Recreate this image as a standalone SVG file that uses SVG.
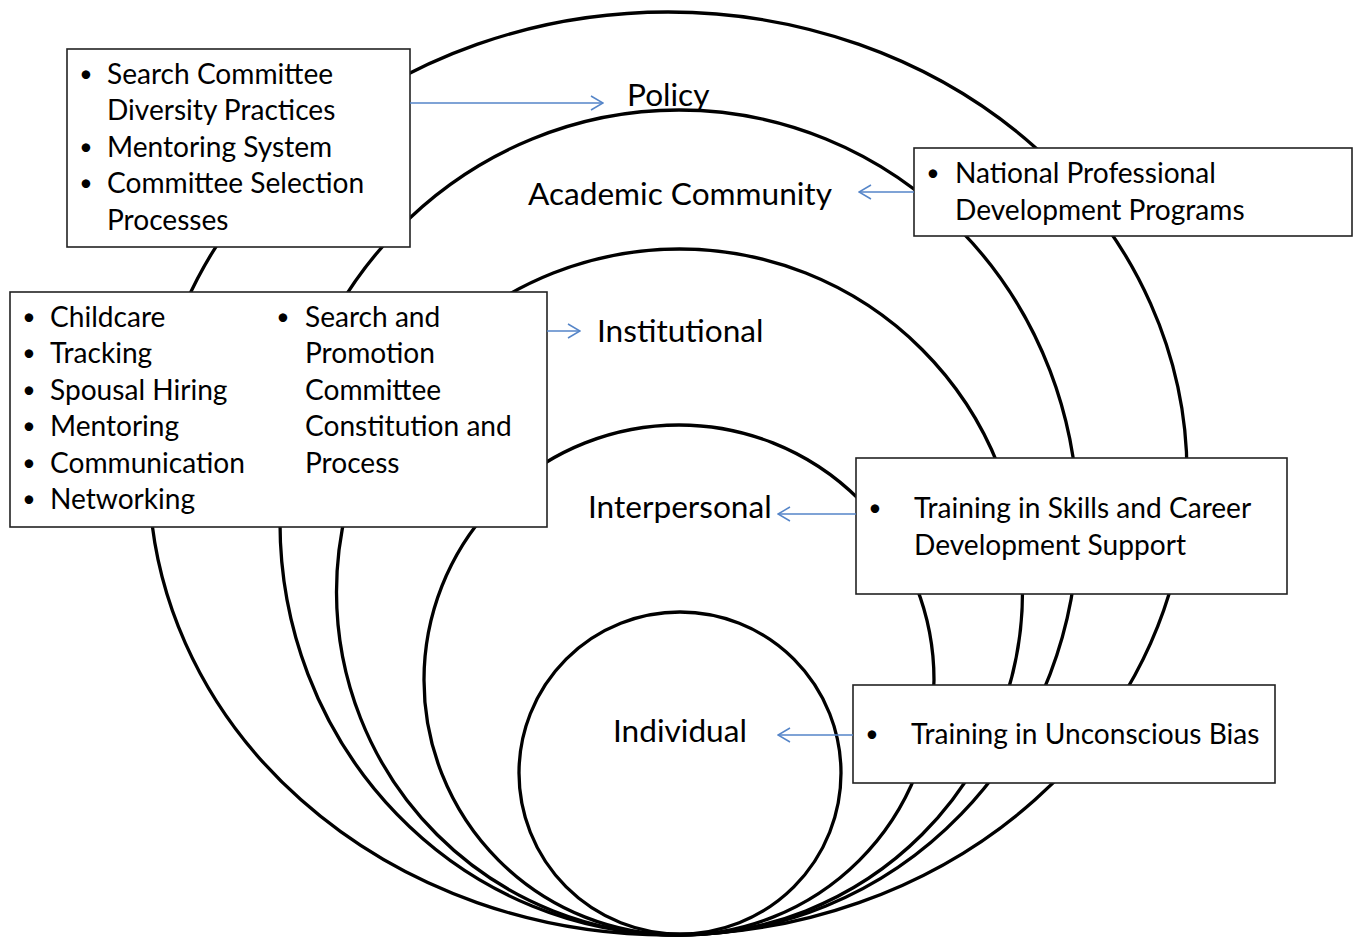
<svg xmlns="http://www.w3.org/2000/svg" width="1360" height="937" viewBox="0 0 1360 937">
<defs>
<style>
.ring{fill:none;stroke:#000;stroke-width:3.3}
.box{fill:#fff;stroke:#222;stroke-width:1.6}
.bt{font-family:Lato,"Open Sans",sans-serif;font-size:28.1px;fill:#000}
.bu{font-family:Lato,"Open Sans",sans-serif;font-size:23px;fill:#000;text-anchor:middle}
.lbl{font-family:Lato,"Open Sans",sans-serif;font-size:31.6px;fill:#000}
.arr{fill:none;stroke:#5585C8;stroke-width:1.5}
</style>
<marker id="ah" viewBox="0 0 14 16" refX="13" refY="8" markerWidth="14" markerHeight="16" orient="auto" markerUnits="userSpaceOnUse">
<path d="M1,1 L13,8 L1,15" fill="none" stroke="#5585C8" stroke-width="1.5"/>
</marker>
</defs>
<rect width="1360" height="937" fill="#fff"/>
<g id="rings">
<ellipse id="policy-ring" class="ring" cx="668" cy="473.5" rx="519" ry="461.5"/>
<ellipse id="academic-ring" class="ring" cx="679" cy="522.5" rx="399" ry="412.5"/>
<circle id="institutional-ring" class="ring" cx="679.5" cy="592" r="343"/>
<circle id="interpersonal-ring" class="ring" cx="679" cy="680" r="255"/>
<circle id="individual-ring" class="ring" cx="680" cy="773" r="161"/>
</g>
<g id="labels">
<text class="lbl" x="627" y="106">Policy</text>
<text class="lbl" x="528" y="205">Academic Community</text>
<text class="lbl" x="597" y="342">Institutional</text>
<text class="lbl" x="588" y="518">Interpersonal</text>
<text class="lbl" x="613" y="742">Individual</text>
</g>
<g id="box-policy">
<rect class="box" x="67" y="49" width="343" height="198"/>
<text class="bu" x="86" y="82">•</text><text class="bt" x="107" y="84">Search Committee</text>
<text class="bt" x="107" y="120">Diversity Practices</text>
<text class="bu" x="86" y="155">•</text><text class="bt" x="107" y="157">Mentoring System</text>
<text class="bu" x="86" y="191">•</text><text class="bt" x="107" y="193">Committee Selection</text>
<text class="bt" x="107" y="230">Processes</text>
</g>
<g id="box-academic">
<rect class="box" x="914" y="148" width="438" height="88"/>
<text class="bu" x="933" y="181">•</text><text class="bt" x="955" y="183">National Professional</text>
<text class="bt" x="955" y="220">Development Programs</text>
</g>
<g id="box-institutional">
<rect class="box" x="10" y="292" width="537" height="235"/>
<text class="bu" x="29" y="325">•</text><text class="bt" x="50" y="327">Childcare</text>
<text class="bu" x="29" y="361">•</text><text class="bt" x="50" y="363">Tracking</text>
<text class="bu" x="29" y="398">•</text><text class="bt" x="50" y="400">Spousal Hiring</text>
<text class="bu" x="29" y="434">•</text><text class="bt" x="50" y="436">Mentoring</text>
<text class="bu" x="29" y="471">•</text><text class="bt" x="50" y="473">Communication</text>
<text class="bu" x="29" y="507">•</text><text class="bt" x="50" y="509">Networking</text>
<text class="bu" x="283" y="325">•</text><text class="bt" x="305" y="327">Search and</text>
<text class="bt" x="305" y="363">Promotion</text>
<text class="bt" x="305" y="400">Committee</text>
<text class="bt" x="305" y="436">Constitution and</text>
<text class="bt" x="305" y="473">Process</text>
</g>
<g id="box-interpersonal">
<rect class="box" x="856" y="458" width="431" height="136"/>
<text class="bu" x="875" y="516">•</text><text class="bt" x="914" y="518">Training in Skills and Career</text>
<text class="bt" x="914" y="555">Development Support</text>
</g>
<g id="box-individual">
<rect class="box" x="853" y="685" width="422" height="98"/>
<text class="bu" x="872" y="742">•</text><text class="bt" x="911" y="744">Training in Unconscious Bias</text>
</g>
<g id="connectors">
<line class="arr" x1="410" y1="103" x2="603" y2="103" marker-end="url(#ah)"/>
<line class="arr" x1="914" y1="192" x2="859" y2="192" marker-end="url(#ah)"/>
<line class="arr" x1="547" y1="331" x2="580" y2="331" marker-end="url(#ah)"/>
<line class="arr" x1="856" y1="514" x2="778" y2="514" marker-end="url(#ah)"/>
<line class="arr" x1="853" y1="735" x2="778" y2="735" marker-end="url(#ah)"/>
</g>
</svg>
